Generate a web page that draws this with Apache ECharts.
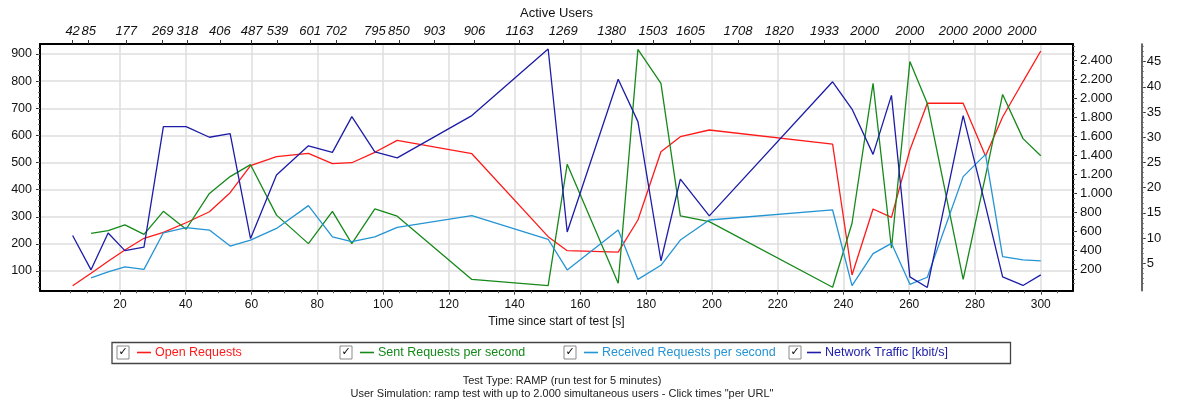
<!DOCTYPE html>
<html><head><meta charset="utf-8">
<script src="https://cdn.jsdelivr.net/npm/echarts@6/dist/echarts.min.js"></script>
<style>html,body{margin:0;padding:0;background:#fff}#c{width:1184px;height:403px}</style>
</head><body><div id="c"></div><script>
// ---- data ----
const times = [5.6, 11.2, 16.4, 21.5, 27.3, 33.2, 40.1, 47.2, 53.5, 59.7, 67.6, 77.3, 84.6, 90.5, 97.5, 104.3, 127.0, 150.2, 156.0, 171.5, 177.5, 184.5, 190.4, 199.2, 236.7, 242.6, 249.0, 254.6, 260.2, 265.5, 276.4, 283.2, 288.4, 294.6, 300.0];
const openRequests = [27,158,284,404,527,590,691,807,1008,1293,1388,1423,1314,1324,1434,1560,1419,544,396,382,720,1440,1598,1669,1521,140,836,748,1458,1951,1951,1395,1806,2180,2502];
const sentPerSec = [null,239,249,270,235,320,254,386,448,492,306,201,320,201,329,302,69,46,494,55,917,792,303,282,40,276,792,184,872,718,69,451,751,588,525];
const receivedPerSec = [null,75,97,115,106,241,260,251,192,214,257,341,226,208,226,261,304,217,104,251,69,121,214,288,325,46,164,202,51,77,448,530,153,141,137];
const networkTraffic = [10.5,3.7,11.0,7.5,8.2,32.1,32.1,30.0,30.7,9.9,22.5,28.3,27.0,34.1,27.1,25.9,34.3,47.5,11.2,41.5,33.1,5.5,21.7,14.4,41.0,35.6,26.6,38.3,2.3,0.2,34.3,16.4,2.3,0.6,2.7];

const userTimes = [5.6, 10.5, 21.9, 33.0, 40.5, 50.4, 60.0, 67.9, 77.8, 85.7, 97.5, 104.8, 115.6, 127.8, 141.5, 154.8, 169.5, 182.1, 193.5, 207.9, 220.5, 234.2, 246.5, 260.2, 273.4, 283.7, 294.3];
const userCounts = [42, 85, 177, 269, 318, 406, 487, 539, 601, 702, 795, 850, 903, 906, 1163, 1269, 1380, 1503, 1605, 1708, 1820, 1933, 2000, 2000, 2000, 2000, 2000];

const timeTicks = [20,40,60,80,100,120,140,160,180,200,220,240,260,280,300];
const leftTicks = [100,200,300,400,500,600,700,800,900];
const right1Ticks = [200,400,600,800,1000,1200,1400,1600,1800,2000,2200,2400];
const right2Ticks = [5,10,15,20,25,30,35,40,45];

const seriesNames = ['Open Requests','Sent Requests per second','Received Requests per second','Network Traffic [kbit/s]'];
const seriesColors = ['#ff1a1a','#15891a','#2394d4','#1c1ca8'];

const footer1 = 'Test Type: RAMP (run test for 5 minutes)';
const footer2 = 'User Simulation: ramp test with up to 2.000 simultaneous users - Click times "per URL"';

// ---- helpers ----
function range(a, b, s){ const r=[]; for(let v=a; v<=b+1e-9; v+=s) r.push(Math.round(v*1000)/1000); return r; }
const FONT = 'Liberation Sans';
const X_MIN = -4.32, X_MAX = 309.8;
const L_MIN = 27.4, L_MAX = 936.9;
const R1_MIN = -25.7, R1_MAX = 2576;
const R2_MIN = -0.44, R2_MAX = 48.5;
const GRID = '#dedede';

function dotThousands(v){
  v = Math.round(v);
  if (v >= 1000) return Math.floor(v/1000) + '.' + String(v%1000).padStart(3,'0');
  return String(v);
}
function pairs(vals){ return times.map((t,i)=>[t, vals[i]]); }

const chart = echarts.init(document.getElementById('c'), null, {renderer:'canvas'});

const xCommon = {type:'value', min:X_MIN, max:X_MAX, splitNumber:15};
const hiddenLine = {show:false, onZero:false};
const option = {
  animation:false,
  backgroundColor:'#ffffff',
  grid:{left:40, right:111, top:44, height:246.7, containLabel:false},
  xAxis:[
    Object.assign({}, xCommon, {
      position:'bottom',
      name:'Time since start of test [s]', nameLocation:'middle', nameGap:25,
      nameTextStyle:{color:'#111', fontSize:12, fontFamily:FONT},
      axisLine:{show:true, onZero:false, lineStyle:{color:'#000', width:2}},
      axisTick:{show:true, length:4, customValues:timeTicks, lineStyle:{color:'#333'}},
      axisLabel:{customValues:timeTicks, color:'#111', fontSize:12, fontFamily:FONT, margin:8},
      splitLine:{show:true, lineStyle:{color:GRID, width:1.5}}
    }),
    Object.assign({}, xCommon, {
      position:'bottom',
      axisLine:hiddenLine,
      axisTick:{show:true, length:2.5, customValues:range(5,305,5), lineStyle:{color:'#555'}},
      axisLabel:{show:false},
      splitLine:{show:false}
    }),
    Object.assign({}, xCommon, {
      position:'top',
      name:'Active Users', nameLocation:'middle', nameGap:23,
      nameTextStyle:{color:'#111', fontSize:13, fontFamily:FONT},
      axisLine:{show:true, onZero:false, lineStyle:{color:'#000', width:2}},
      axisTick:{show:true, length:4, customValues:userTimes, lineStyle:{color:'#333'}},
      axisLabel:{customValues:userTimes, color:'#111', fontSize:13, fontStyle:'italic', fontFamily:FONT, margin:6,
        formatter:function(v){ for(let i=0;i<userTimes.length;i++){ if(Math.abs(userTimes[i]-v)<1e-6) return String(userCounts[i]); } return ''; }},
      splitLine:{show:false}
    })
  ],
  yAxis:[
    {type:'value', position:'left', min:L_MIN, max:L_MAX, splitNumber:9,
      axisLine:{show:true, onZero:false, lineStyle:{color:'#000', width:2}},
      axisTick:{show:true, length:4, customValues:leftTicks, lineStyle:{color:'#333'}},
      axisLabel:{customValues:leftTicks, color:'#111', fontSize:12.5, fontFamily:FONT, margin:8},
      splitLine:{show:true, lineStyle:{color:GRID, width:1.5}}},
    {type:'value', position:'right', min:R1_MIN, max:R1_MAX, splitNumber:13,
      axisLine:{show:true, onZero:false, lineStyle:{color:'#000', width:2}},
      axisTick:{show:true, length:4, customValues:right1Ticks, lineStyle:{color:'#333'}},
      axisLabel:{customValues:right1Ticks, color:'#111', fontSize:13, fontFamily:FONT, margin:7, formatter:dotThousands},
      splitLine:{show:false}},
    {type:'value', position:'right', offset:68.7, min:R2_MIN, max:R2_MAX, splitNumber:10,
      axisLine:{show:true, onZero:false, lineStyle:{color:'#333', width:1.5}},
      axisTick:{show:true, length:4, customValues:right2Ticks, lineStyle:{color:'#333'}},
      axisLabel:{customValues:right2Ticks, color:'#111', fontSize:13, fontFamily:FONT, margin:5},
      splitLine:{show:false}},
    {type:'value', position:'left', min:L_MIN, max:L_MAX,
      axisLine:hiddenLine, axisLabel:{show:false}, splitLine:{show:false},
      axisTick:{show:true, length:2, customValues:range(40,920,20), lineStyle:{color:'#666'}}},
    {type:'value', position:'right', min:R1_MIN, max:R1_MAX,
      axisLine:hiddenLine, axisLabel:{show:false}, splitLine:{show:false},
      axisTick:{show:true, length:2, customValues:range(50,2550,50), lineStyle:{color:'#666'}}},
    {type:'value', position:'right', offset:68.7, min:R2_MIN, max:R2_MAX,
      axisLine:hiddenLine, axisLabel:{show:false}, splitLine:{show:false},
      axisTick:{show:true, length:2, customValues:range(1,48,1), lineStyle:{color:'#666'}}}
  ],
  legend: [0,1,2,3].map(function(i){
    const lefts = [137, 360, 584, 807];
    return {data:[seriesNames[i]], left:lefts[i], top:346, padding:0, icon:'rect', itemWidth:14, itemHeight:1.6,
      selectedMode:false, textStyle:{color:seriesColors[i], fontSize:12.5, fontFamily:FONT, padding:[0,0,0,-1]}};
  }),
  series:[
    {name:seriesNames[0], type:'line', xAxisIndex:0, yAxisIndex:1, data:pairs(openRequests)},
    {name:seriesNames[1], type:'line', xAxisIndex:0, yAxisIndex:0, data:pairs(sentPerSec)},
    {name:seriesNames[2], type:'line', xAxisIndex:0, yAxisIndex:0, data:pairs(receivedPerSec)},
    {name:seriesNames[3], type:'line', xAxisIndex:0, yAxisIndex:2, data:pairs(networkTraffic)}
  ].map(function(s, i){
    return Object.assign(s, {showSymbol:false, symbol:'none', connectNulls:false, color:seriesColors[i],
      lineStyle:{color:seriesColors[i], width:1.3}, itemStyle:{color:seriesColors[i]}});
  }),
  graphic:[
    {type:'rect', shape:{x:112, y:342.5, width:898.5, height:21}, style:{fill:'none', stroke:'#444', lineWidth:1.3}, silent:true, z:10},
    ...[117, 340, 564, 789].map(function(x){
      return {type:'group', silent:true, z:11, children:[
        {type:'rect', shape:{x:x, y:346, width:12, height:13}, style:{fill:'#fff', stroke:'#8a8a8a', lineWidth:1}},
        {type:'text', x:x+6, y:352.5, style:{text:'✓', fill:'#000', font:'bold 11px "DejaVu Sans"', textAlign:'center', textVerticalAlign:'middle'}}
      ]};
    }),
    {type:'text', x:562, y:380.5, silent:true, style:{text:footer1, fill:'#222', font:'11px "Liberation Sans"', textAlign:'center', textVerticalAlign:'middle'}},
    {type:'text', x:562, y:393.5, silent:true, style:{text:footer2, fill:'#222', font:'11px "Liberation Sans"', textAlign:'center', textVerticalAlign:'middle'}}
  ]
};
chart.setOption(option);
</script></body></html>
